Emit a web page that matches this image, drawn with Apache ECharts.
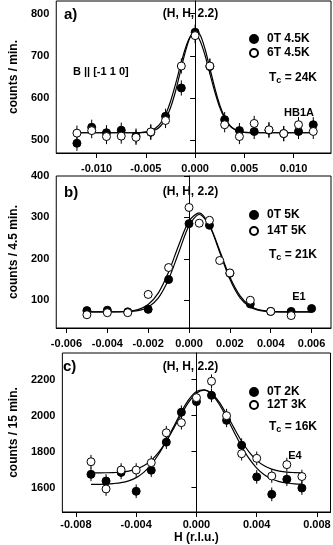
<!DOCTYPE html>
<html>
<head>
<meta charset="utf-8">
<script src="https://cdn.jsdelivr.net/npm/echarts@6/dist/echarts.min.js"></script>
<style>
html, body { margin: 0; padding: 0; background: #fff; }
#chart { width: 333px; height: 545px; }
</style>
</head>
<body>
<div id="chart"></div>
<script>
// a) HB1A 数据
var HA = [-0.012, -0.0105, -0.009, -0.0075, -0.006, -0.0045, -0.003, -0.0014, 0, 0.0015, 0.003, 0.0045, 0.006, 0.0075, 0.009, 0.0105, 0.012];
var A_0T = [493, 531, 518, 524, 510, 519, 557, 624, 756, 675, 549, 523, 521, 524, 516, 521, 537];
var A_6T = [517, 523, 509, 510, 507, 520, 547, 676, 748, 676, 537, 509, 540, 525, 516, 537, 521];
// a) 拟合曲线
var FIT_HA = [-0.012, -0.008, -0.006, -0.005, -0.0045, -0.004, -0.0035, -0.003, -0.0025, -0.002, -0.0015, -0.001, -0.0005, 0, 0.0005, 0.001, 0.0015, 0.002, 0.0025, 0.003, 0.0035, 0.004, 0.0045, 0.005, 0.006, 0.008, 0.012];
var FIT_A_0T = [518, 518, 518, 519, 521, 525, 534, 550, 577, 615, 662, 709, 745, 760, 750, 717, 671, 624, 584, 555, 536, 526, 521, 519, 518, 518, 518];
var FIT_A_6T = [518, 518, 518, 520, 523, 529, 541, 561, 592, 632, 676, 717, 745, 752, 736, 702, 658, 615, 578, 552, 535, 526, 521, 519, 518, 518, 518];

// b) E1 数据
var HB_0T = [-0.005, -0.004, -0.003, -0.002, -0.001, 0, 0.001, 0.002, 0.003, 0.004, 0.005, 0.006];
var B_0T = [75, 76, 72, 78, 150, 285, 281, 165, 91, 73, 73, 80];
var HB_14T = [-0.005, -0.004, -0.003, -0.002, -0.001, 0, 0.0005, 0.001, 0.0015, 0.002, 0.003, 0.004, 0.005];
var B_14T = [65, 70, 70, 114, 179, 324, 286, 293, 196, 166, 100, 73, 63];
// b) 拟合曲线
var FIT_HB = [-0.005, -0.004, -0.003, -0.0025, -0.002, -0.0015, -0.001, -0.0005, 0, 0.0005, 0.001, 0.0015, 0.002, 0.0025, 0.003, 0.0035, 0.004, 0.0045, 0.005, 0.006];
var FIT_B_0T = [72, 72, 72.6, 74.9, 83, 105.5, 150.5, 216, 280, 307, 280, 216, 150.5, 105.5, 83, 74.9, 72.6, 72, 72, 72];
var FIT_B_14T = [72, 72, 73.4, 77.5, 89.6, 117.7, 168, 233.5, 291, 311, 281.6, 220, 156, 110.5, 86, 76, 73, 72, 72, 72];

// c) E4 数据
var HC = [-0.007, -0.006, -0.005, -0.004, -0.003, -0.002, -0.001, 0, 0.001, 0.002, 0.003, 0.004, 0.005, 0.006, 0.007];
var C_0T = [1674, 1637, 1685, 1580, 1697, 1853, 2019, 2078, 2113, 1974, 1836, 1660, 1563, 1647, 1598];
var C_12T = [1744, 1593, 1698, 1698, 1739, 1905, 1961, 2100, 2191, 2000, 1789, 1763, 1665, 1728, 1662];
// c) 拟合曲线
var FIT_HC = [-0.007, -0.006, -0.0055, -0.005, -0.0045, -0.004, -0.0035, -0.003, -0.0025, -0.002, -0.0015, -0.001, -0.0005, 0, 0.0005, 0.001, 0.0015, 0.002, 0.0025, 0.003, 0.0035, 0.004, 0.0045, 0.005, 0.0055, 0.006, 0.0065, 0.007];
var FIT_C_0T = [1618, 1620, 1623, 1628, 1638, 1656, 1685, 1728, 1787, 1860, 1941, 2022, 2090, 2134, 2144, 2120, 2065, 1991, 1908, 1829, 1761, 1709, 1672, 1648, 1634, 1626, 1621, 1620];
var FIT_C_12T = [1682, 1683, 1684, 1686, 1692, 1703, 1722, 1752, 1798, 1858, 1931, 2008, 2077, 2125, 2142, 2125, 2077, 2008, 1931, 1858, 1798, 1752, 1722, 1703, 1692, 1686, 1684, 1683];

// 误差棒 (counts)
var ERR_A = 18;
var ERR_C = 38;

// 刻度
var TICK_XA = [-0.01, -0.005, 0, 0.005, 0.01];
var TICK_YA = [500, 600, 700, 800];
var TICK_XB = [-0.006, -0.004, -0.002, 0, 0.002, 0.004, 0.006];
var TICK_YB = [100, 200, 300, 400];
var TICK_XC = [-0.008, -0.004, 0, 0.004, 0.008];
var TICK_YC = [1600, 1800, 2000, 2200];

var FONT = "'Liberation Sans', Arial, Helvetica, sans-serif";

function Pairs(xs, ys) {
    var out = [];
    for (var i = 0; i < xs.length; i++) {
        out.push([xs[i], ys[i]]);
    }
    return out;
}
function ErrPairs(xs, ys, e) {
    var out = [];
    for (var i = 0; i < xs.length; i++) {
        out.push([xs[i], ys[i], e]);
    }
    return out;
}

//x轴
function MakeX(idx, min, max, ticks, margin, name) {
    return {
        type: 'value', gridIndex: idx, min: min, max: max,
        splitLine: { show: false },
        axisLine: { lineStyle: { color: '#000', width: 1 } },
        axisTick: { length: 5, lineStyle: { color: '#000' }, customValues: ticks },
        axisLabel: {
            customValues: ticks, margin: margin, color: '#000',
            fontFamily: FONT, fontWeight: 'bold', fontSize: 11,
            formatter: function (v) { return v.toFixed(3); }
        },
        name: name || '', nameLocation: 'middle', nameGap: 20,
        nameTextStyle: { color: '#000', fontFamily: FONT, fontWeight: 'bold', fontSize: 12 }
    };
}
//y轴
function MakeY(idx, min, max, ticks, name) {
    return {
        type: 'value', gridIndex: idx, min: min, max: max,
        splitLine: { show: false },
        axisLine: { show: true, lineStyle: { color: '#000', width: 1 } },
        axisTick: { show: true, length: 5, lineStyle: { color: '#000' }, customValues: ticks },
        axisLabel: {
            customValues: ticks, margin: 7, color: '#000',
            fontFamily: FONT, fontWeight: 'bold', fontSize: 11,
            formatter: function (v) { return String(v); }
        },
        name: name, nameLocation: 'middle', nameGap: 30,
        nameTextStyle: { color: '#000', fontFamily: FONT, fontWeight: 'bold', fontSize: 12 }
    };
}
//拟合线
function FitLine(idx, xs, ys) {
    return {
        type: 'line', xAxisIndex: idx, yAxisIndex: idx,
        data: Pairs(xs, ys), showSymbol: false, smooth: 0.3,
        lineStyle: { color: '#000', width: 1.2 }, z: 2, silent: true
    };
}
//数据点
function Points(idx, name, xs, ys, open) {
    return {
        type: 'scatter', name: name, xAxisIndex: idx, yAxisIndex: idx,
        data: Pairs(xs, ys), symbol: 'circle', symbolSize: 8,
        itemStyle: {
            color: open ? '#fff' : '#000', borderColor: '#000', borderWidth: 1, opacity: 1
        },
        z: 4
    };
}
//误差棒
function ErrBars(idx, xs, ys, e) {
    return {
        type: 'custom', xAxisIndex: idx, yAxisIndex: idx,
        data: ErrPairs(xs, ys, e), z: 3, silent: true,
        encode: { x: 0, y: 1 },
        renderItem: function (params, api) {
            var x = api.value(0), y = api.value(1), d = api.value(2);
            var p1 = api.coord([x, y - d]);
            var p2 = api.coord([x, y + d]);
            return {
                type: 'line',
                shape: { x1: p1[0], y1: p1[1], x2: p2[0], y2: p2[1] },
                style: { stroke: '#000', lineWidth: 1 }
            };
        }
    };
}
function Legend(top, gap, names) {
    return {
        orient: 'vertical', left: 249, top: top, padding: 0,
        itemWidth: 16, itemHeight: 8, itemGap: gap, icon: 'circle',
        selectedMode: false, data: names,
        itemStyle: { opacity: 1 },
        textStyle: { color: '#000', fontFamily: FONT, fontWeight: 'bold', fontSize: 12, lineHeight: 12 }
    };
}
function Label(x, y, text, size, align) {
    return {
        type: 'text', x: x, y: y, silent: true,
        style: {
            text: text, fill: '#000', font: 'bold ' + size + 'px ' + FONT,
            textAlign: align || 'left', textVerticalAlign: 'middle'
        }
    };
}
function TcLabel(x, y, text) {
    return {
        type: 'text', x: x, y: y, silent: true,
        style: {
            text: '{t|T}{s|c}{t| = ' + text + '}', fill: '#000',
            textAlign: 'left', textVerticalAlign: 'middle',
            rich: {
                t: { fontFamily: FONT, fontWeight: 'bold', fontSize: 12, fill: '#000' },
                s: { fontFamily: FONT, fontWeight: 'bold', fontSize: 9, fill: '#000', padding: [6, 0, 0, 0] }
            }
        }
    };
}

var gridBase = { left: 48, right: 2, show: true, borderColor: '#000', borderWidth: 1, backgroundColor: 'transparent' };
function G(top, height) {
    var g = {};
    for (var k in gridBase) g[k] = gridBase[k];
    g.top = top; g.height = height;
    return g;
}

var Chart = echarts.init(document.getElementById('chart'), null, { renderer: 'canvas' });
Chart.setOption({
    animation: false,
    backgroundColor: '#fff',
    grid: [G(1, 152), G(176, 152), G(353, 160)],
    xAxis: [
        MakeX(0, -0.0141, 0.0138, TICK_XA, 10),
        MakeX(1, -0.0065, 0.00695, TICK_XB, 10),
        MakeX(2, -0.0089, 0.0089, TICK_XC, 7, 'H (r.l.u.)')
    ],
    yAxis: [
        MakeY(0, 470, 830, TICK_YA, 'counts / min.'),
        MakeY(1, 33, 400, TICK_YB, 'counts / 4.5 min.'),
        MakeY(2, 1465, 2348, TICK_YC, 'counts / 15 min.')
    ],
    legend: [
        Legend(33, 2, ['0T 4.5K', '6T 4.5K']),
        Legend(209, 4, ['0T 5K', '14T 5K']),
        Legend(386, 1, ['0T 2K', '12T 3K'])
    ],
    graphic: [
        Label(64, 15, 'a)', 15),
        Label(64, 193, 'b)', 15),
        Label(63, 367, 'c)', 15),
        Label(190.5, 14, '(H, H, 2.2)', 12, 'center'),
        Label(190.5, 192, '(H, H, 2.2)', 12, 'center'),
        Label(190.5, 367, '(H, H, 2.2)', 12, 'center'),
        Label(73, 72, 'B || [-1 1 0]', 11),
        Label(299, 113, 'HB1A', 11, 'center'),
        Label(299, 297, 'E1', 11, 'center'),
        Label(295, 456, 'E4', 11, 'center'),
        TcLabel(269, 78, '24K'),
        TcLabel(269, 255, '21K'),
        TcLabel(269, 427, '16K')
    ],
    series: [
        FitLine(0, FIT_HA, FIT_A_0T),
        FitLine(0, FIT_HA, FIT_A_6T),
        ErrBars(0, HA, A_0T, ERR_A),
        ErrBars(0, HA, A_6T, ERR_A),
        Points(0, '0T 4.5K', HA, A_0T, false),
        Points(0, '6T 4.5K', HA, A_6T, true),

        FitLine(1, FIT_HB, FIT_B_0T),
        FitLine(1, FIT_HB, FIT_B_14T),
        Points(1, '0T 5K', HB_0T, B_0T, false),
        Points(1, '14T 5K', HB_14T, B_14T, true),

        FitLine(2, FIT_HC, FIT_C_0T),
        FitLine(2, FIT_HC, FIT_C_12T),
        ErrBars(2, HC, C_0T, ERR_C),
        ErrBars(2, HC, C_12T, ERR_C),
        Points(2, '0T 2K', HC, C_0T, false),
        Points(2, '12T 3K', HC, C_12T, true)
    ]
});
</script>
</body>
</html>
